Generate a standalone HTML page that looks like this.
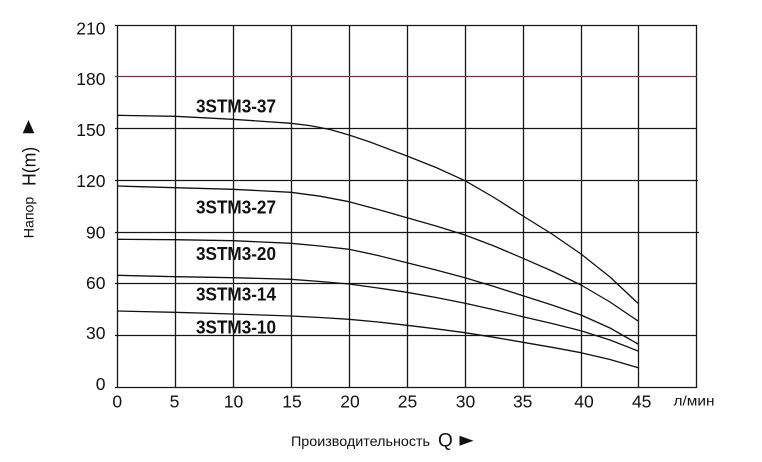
<!DOCTYPE html>
<html><head><meta charset="utf-8"><style>
html,body{margin:0;padding:0;background:#fff;}
svg{display:block;}
text{font-family:"Liberation Sans",sans-serif;fill:#111;}
</style></head><body>
<svg width="762" height="462" viewBox="0 0 762 462" xmlns="http://www.w3.org/2000/svg">
<g stroke="#161616" stroke-width="1.3" fill="none">
<line x1="117.5" y1="25" x2="117.5" y2="388"/>
<line x1="175.5" y1="25" x2="175.5" y2="388"/>
<line x1="233.5" y1="25" x2="233.5" y2="388"/>
<line x1="291.5" y1="25" x2="291.5" y2="388"/>
<line x1="349.5" y1="25" x2="349.5" y2="388"/>
<line x1="407.5" y1="25" x2="407.5" y2="388"/>
<line x1="465.5" y1="25" x2="465.5" y2="388"/>
<line x1="523.5" y1="25" x2="523.5" y2="388"/>
<line x1="581.5" y1="25" x2="581.5" y2="388"/>
<line x1="638.5" y1="25" x2="638.5" y2="388"/>
<line x1="696.5" y1="25" x2="696.5" y2="388"/>
<line x1="115" y1="25.5" x2="697" y2="25.5"/>
<line x1="115" y1="128.5" x2="697" y2="128.5"/>
<line x1="115" y1="180.5" x2="698" y2="180.5"/>
<line x1="115" y1="232.5" x2="699" y2="232.5"/>
<line x1="115" y1="283.5" x2="697" y2="283.5"/>
<line x1="115" y1="335.5" x2="697" y2="335.5"/>
<line x1="115" y1="387.5" x2="697" y2="387.5"/>
</g>
<line x1="115" y1="76.5" x2="697" y2="76.5" stroke="#6b3a3a" stroke-width="1.3"/>
<g stroke="#111" stroke-width="1.3" fill="none" stroke-linejoin="round">
<polyline points="117,115.3 175,116.3 233,119.3 291,123.3 310,125.6 330,129.5 349,135 370,142 407,156 436,167.5 465,180.7 494,197.5 523,216 552,234 581,254 610,277 638,303.3"/>
<polyline points="117,186 175,187.7 233,189.3 291,192.3 320,196.2 349,201.7 378,209.5 407,217.7 436,226 465,235 494,246 523,258.3 552,271 581,285 610,302 638,321"/>
<polyline points="117,239.3 175,239.7 233,240.7 291,243.3 320,246 349,249.3 378,255.5 407,262.7 436,270 465,277.7 494,286.5 523,295.7 552,305 581,315 610,328 638,344"/>
<polyline points="117,275.3 175,276.7 233,277.7 291,279.3 320,281.5 349,284 378,288 407,292.3 436,297.5 465,303.3 494,309.8 523,316.7 552,323.5 581,330.7 610,340 638,351"/>
<polyline points="117,311 175,312.3 233,314 291,316 320,317.5 349,319.3 378,322 407,325.3 436,328.8 465,332.7 494,337.3 523,342.3 552,347.3 581,352.7 610,359.5 638,367.7"/>
</g>
<g font-weight="bold" font-size="18.6">
<text x="196" y="112.7" textLength="80" lengthAdjust="spacingAndGlyphs">3STM3-37</text>
<text x="196" y="213.3" textLength="80" lengthAdjust="spacingAndGlyphs">3STM3-27</text>
<text x="196" y="260" textLength="80" lengthAdjust="spacingAndGlyphs">3STM3-20</text>
<text x="196" y="300.7" textLength="80" lengthAdjust="spacingAndGlyphs">3STM3-14</text>
<text x="196" y="333.3" textLength="80" lengthAdjust="spacingAndGlyphs">3STM3-10</text>
</g>
<g font-size="17.5" text-anchor="end">
<text x="105.5" y="34.7">210</text>
<text x="105.5" y="85">180</text>
<text x="105.5" y="135.9">150</text>
<text x="105.5" y="186.9">120</text>
<text x="105.5" y="238.4">90</text>
<text x="105.5" y="289.2">60</text>
<text x="105.5" y="339.2">30</text>
<text x="105.5" y="390">0</text>
</g>
<g font-size="17.5" text-anchor="middle">
<text x="117.3" y="407.3">0</text>
<text x="174.5" y="407.3">5</text>
<text x="233.5" y="407.3">10</text>
<text x="292" y="407.3">15</text>
<text x="350" y="407.3">20</text>
<text x="407.5" y="407.3">25</text>
<text x="465.5" y="407.3">30</text>
<text x="522.7" y="407.3">35</text>
<text x="584" y="407.3">40</text>
<text x="641.7" y="407.3">45</text>
</g>
<text x="673.5" y="405.7" font-size="14" textLength="41" lengthAdjust="spacingAndGlyphs">л/мин</text>
<text x="291" y="446" font-size="14" textLength="139" lengthAdjust="spacingAndGlyphs">Производительность</text>
<text x="438" y="446.5" font-size="19">Q</text>
<polygon points="459.5,435.7 473.5,440.7 459.5,445.7" fill="#111"/>
<g transform="translate(33.3,238.3) rotate(-90)">
<text x="0" y="0" font-size="13.5" textLength="41.6" lengthAdjust="spacingAndGlyphs">Напор</text>
</g>
<g transform="translate(35.5,186) rotate(-90)">
<text x="0" y="0" font-size="18.5" textLength="39.3" lengthAdjust="spacingAndGlyphs">H(m)</text>
</g>
<polygon points="22.7,133.3 34.3,133.3 28.5,120" fill="#111"/>
</svg>
</body></html>
